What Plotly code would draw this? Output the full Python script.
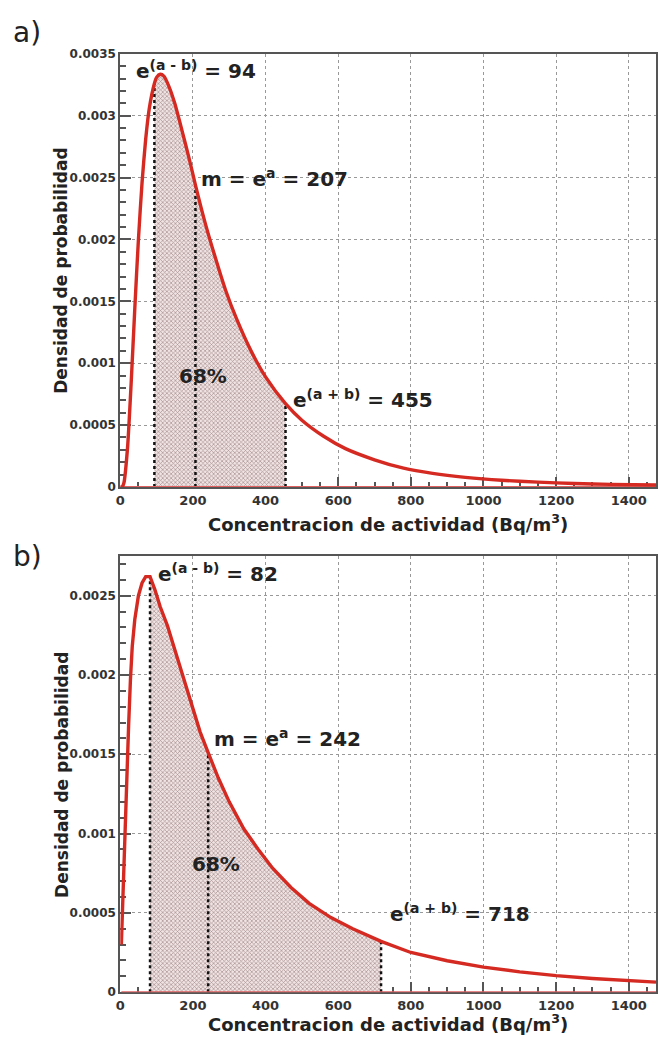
import plotly.graph_objects as go

# ---------------- data ----------------
# Panel a
xa = [0, 5, 10, 20, 30, 40, 50, 60, 70, 80, 94, 100, 110, 120, 135, 150, 170, 190, 207, 235,
      260, 290, 320, 360, 400, 455, 500, 560, 620, 700, 780, 860, 950, 1050, 1150, 1250, 1350, 1475]
ya = [0, 0.000002, 0.000032, 0.000315, 0.00084, 0.00144, 0.0020, 0.00246, 0.00281, 0.00306,
      0.00326, 0.00331, 0.003335, 0.00332, 0.00323, 0.00310, 0.00288, 0.00265, 0.00244, 0.00212,
      0.00187, 0.00159, 0.00136, 0.00110, 0.00089, 0.000674, 0.00054, 0.00041, 0.00031, 0.00022,
      0.000152, 0.000110, 0.000078, 0.000054, 0.000039, 0.000028, 0.000021, 0.0000155]
marks_a = [94, 207, 455]          # e^(a-b), e^a, e^(a+b)

# Panel b
xb = [3, 6, 9, 13, 18, 23, 28, 33, 40, 50, 60, 70, 82, 95, 110, 130, 150, 170, 195, 220,
      242, 270, 300, 340, 380, 420, 470, 520, 580, 640, 718, 800, 900, 1000, 1100, 1200, 1300, 1400, 1475]
yb = [0.0003, 0.00052, 0.00075, 0.00105, 0.00136, 0.00168, 0.00197, 0.00218, 0.00235, 0.0025,
      0.00258, 0.00262, 0.00262, 0.00254, 0.00243, 0.00231, 0.00216, 0.00201, 0.00182, 0.00164,
      0.00151, 0.00135, 0.00120, 0.00103, 0.00090, 0.00078, 0.00066, 0.00056, 0.00047, 0.00040,
      0.00032, 0.00025, 0.000198, 0.000158, 0.000128, 0.000104, 0.000086, 0.000072, 0.000063]
marks_b = [82, 242, 718]

x_ticks = [0, 200, 400, 600, 800, 1000, 1200, 1400]
ya_ticks = [0, 0.0005, 0.001, 0.0015, 0.002, 0.0025, 0.003, 0.0035]
ya_labels = ["0", "0.0005", "0.001", "0.0015", "0.002", "0.0025", "0.003", "0.0035"]
yb_ticks = [0, 0.0005, 0.001, 0.0015, 0.002, 0.0025]
yb_labels = ["0", "0.0005", "0.001", "0.0015", "0.002", "0.0025"]

X_RANGE = [0, 1475]
YA_RANGE = [0, 0.0035]
YB_RANGE = [0, 0.00275]

# ---------------- styling ----------------
W, H = 658, 1046
FONT = "DejaVu Sans"
RED = "#d42a22"
FRAME = "#555555"
TXT = "#333333"

fig = go.Figure()


def add_panel(xs, ys, marks, xref, yref, smooth):
    lo, hi = marks[0], marks[-1]
    fx = [x for x in xs if lo <= x <= hi]
    fy = [y for x, y in zip(xs, ys) if lo <= x <= hi]
    # hatched 68 % area
    fig.add_trace(go.Scatter(
        x=fx, y=fy, xaxis=xref, yaxis=yref, mode="lines",
        line=dict(width=0, shape="spline" if smooth else "linear"),
        fill="tozeroy", fillcolor="rgba(230,205,205,0.7)",
        fillpattern=dict(shape="x", size=3, solidity=0.4, fgcolor="#a89090",
                         bgcolor="#f0e3e3", fillmode="replace"),
        hoverinfo="skip", showlegend=False))
    # dotted vertical lines
    for m in marks:
        yv = ys[xs.index(m)]
        fig.add_trace(go.Scatter(
            x=[m, m], y=[0, yv], xaxis=xref, yaxis=yref, mode="lines",
            line=dict(color="#111111", width=2.5, dash="dot"),
            hoverinfo="skip", showlegend=False))
    # red baseline
    fig.add_trace(go.Scatter(
        x=[xs[0], X_RANGE[1]], y=[0, 0], xaxis=xref, yaxis=yref, mode="lines",
        line=dict(color="#e06060", width=2), hoverinfo="skip", showlegend=False,
        cliponaxis=False))
    # curve
    fig.add_trace(go.Scatter(
        x=xs, y=ys, xaxis=xref, yaxis=yref, mode="lines",
        line=dict(color=RED, width=3.4, shape="spline" if smooth else "linear",
                  smoothing=0.6),
        hoverinfo="skip", showlegend=False))


add_panel(xa, ya, marks_a, "x", "y", True)
add_panel(xb, yb, marks_b, "x2", "y2", False)

x_dom = [116.5 / W, 1.0]
ya_dom = [1 - 486.5 / H, 1 - 47.5 / H]
yb_dom = [1 - 998.5 / H, 1 - 556.5 / H]

common_x = dict(
    range=X_RANGE, domain=x_dom, showline=True, linecolor=FRAME, linewidth=2, mirror=True,
    ticks="inside", ticklen=10, tickwidth=1.5, tickcolor=FRAME,
    tickvals=x_ticks, ticktext=["<b>%d</b>" % v for v in x_ticks],
    tickfont=dict(family=FONT, size=13, color=TXT),
    minor=dict(dtick=50, ticks="inside", ticklen=5, tickcolor=FRAME, showgrid=False),
    showgrid=True, gridcolor="#999999", gridwidth=1, griddash="dot",
    zeroline=False, fixedrange=True, layer="below traces")

common_y = dict(
    showline=True, linecolor=FRAME, linewidth=2, mirror=True,
    ticks="inside", ticklen=11, tickwidth=1.5, tickcolor=FRAME,
    tickfont=dict(family=FONT, size=12, color=TXT),
    minor=dict(dtick=0.0001, ticks="inside", ticklen=6, tickcolor=FRAME, showgrid=False),
    showgrid=True, gridcolor="#999999", gridwidth=1, griddash="dot",
    zeroline=False, fixedrange=True, layer="below traces")

fig.update_layout(
    width=W, height=H, margin=dict(l=0, r=0, t=0, b=0),
    paper_bgcolor="white", plot_bgcolor="white",
    font=dict(family=FONT, color=TXT),
    xaxis=dict(common_x, anchor="y"),
    xaxis2=dict(common_x, anchor="y2"),
    yaxis=dict(common_y, range=YA_RANGE, domain=ya_dom, anchor="x",
               tickvals=ya_ticks, ticktext=["<b>%s</b>" % t for t in ya_labels]),
    yaxis2=dict(common_y, range=YB_RANGE, domain=yb_dom, anchor="x2",
                tickvals=yb_ticks, ticktext=["<b>%s</b>" % t for t in yb_labels]),
)

ann_font = dict(family=FONT, size=20, color="#222222")
notes = [
    ("x", "y", 38, 0.00337, "<b>e<sup>(a - b)</sup> = 94</b>"),
    ("x", "y", 216, 0.00250, "<b>m = e<sup>a</sup> = 207</b>"),
    ("x", "y", 156, 0.00090, "<b>68%</b>"),
    ("x", "y", 469, 0.00071, "<b>e<sup>(a + b)</sup> = 455</b>"),
    ("x2", "y2", 99, 0.00264, "<b>e<sup>(a - b)</sup> = 82</b>"),
    ("x2", "y2", 252, 0.00160, "<b>m = e<sup>a</sup> = 242</b>"),
    ("x2", "y2", 192, 0.00081, "<b>68%</b>"),
    ("x2", "y2", 736, 0.00050, "<b>e<sup>(a + b)</sup> = 718</b>"),
]
for xr, yr, xv, yv, t in notes:
    fig.add_annotation(x=xv, y=yv, xref=xr, yref=yr, text=t, showarrow=False,
                       xanchor="left", yanchor="middle", font=ann_font)

for yc in (267, 778):
    fig.add_annotation(x=57 / W, y=1 - yc / H, xref="paper", yref="paper",
                       text="<b>Densidad de probabilidad</b>", textangle=-90,
                       showarrow=False, xanchor="center", yanchor="middle",
                       font=dict(family=FONT, size=17, color="#222222"))
for yc in (523, 1030):
    fig.add_annotation(x=387 / W, y=1 - yc / H, xref="paper", yref="paper",
                       text="<b>Concentracion de actividad (Bq/m<sup>3</sup>)</b>",
                       showarrow=False, xanchor="center", yanchor="middle",
                       font=dict(family=FONT, size=18, color="#222222"))

for lab, yc in (("a)", 26), ("b)", 557)):
    fig.add_annotation(x=6 / W, y=1 - yc / H, xref="paper", yref="paper", text=lab,
                       showarrow=False, xanchor="left", yanchor="middle",
                       font=dict(family=FONT, size=28, color="#222222"))

fig.write_html("out.html")
